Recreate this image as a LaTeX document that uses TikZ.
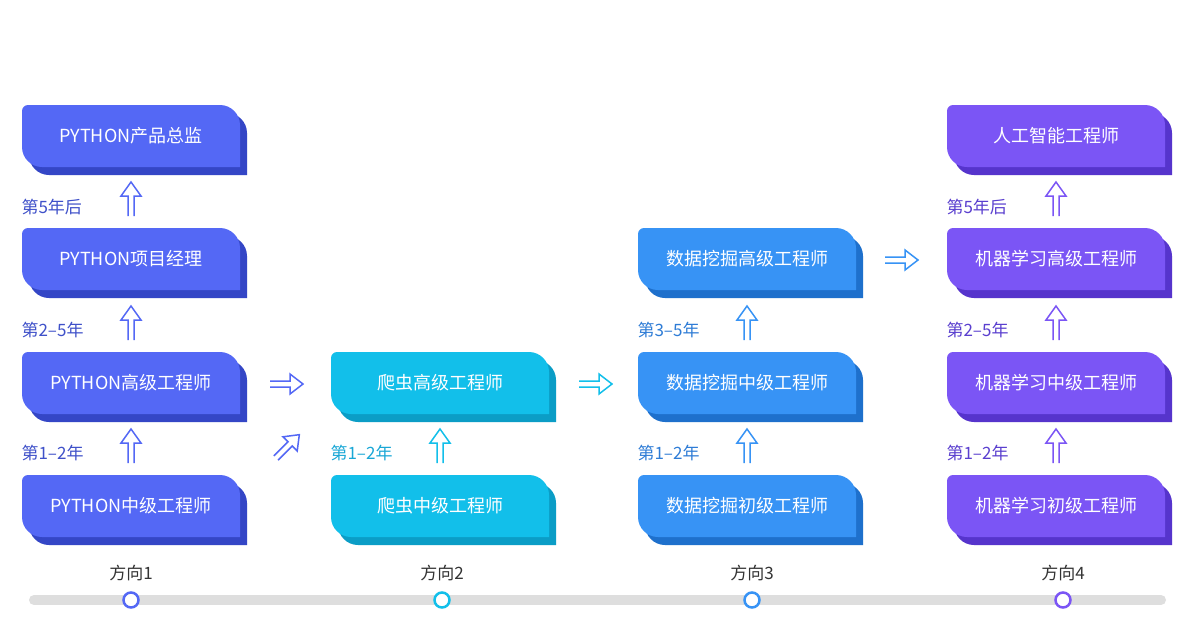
\documentclass[tikz,border=0pt]{standalone}
\usepackage{fontspec}
\setmainfont{Noto Sans CJK SC}
\begin{document}
\begin{tikzpicture}[x=1pt,y=-1pt,
  boxtext/.style={text=white,font=\fontsize{18}{20}\selectfont},
  yrlabel/.style={anchor=west,font=\fontsize{17}{20}\selectfont},
  dirlabel/.style={font=\fontsize{17}{20}\selectfont,text=black!80},
  arr/.style={line width=1.5pt,line join=miter},
  uparr/.pic={\draw[arr] (-3,0)--(-3,-20)--(-10,-20)--(0,-34)--(10,-20)--(3,-20)--(3,0);},
  rtarr/.pic={\draw[arr] (0,-3)--(20,-3)--(20,-10)--(33,0)--(20,10)--(20,3)--(0,3);}]
\definecolor{pyF}{HTML}{5468F5}\definecolor{pyS}{HTML}{3446C6}\definecolor{pyT}{HTML}{3F51C9}
\definecolor{cyF}{HTML}{12BFEA}\definecolor{cyS}{HTML}{0B9DC6}\definecolor{cyT}{HTML}{19A7D6}
\definecolor{dmF}{HTML}{3793F5}\definecolor{dmS}{HTML}{1E70CC}\definecolor{dmT}{HTML}{2E7CD6}
\definecolor{mlF}{HTML}{7B55F5}\definecolor{mlS}{HTML}{5634CC}\definecolor{mlT}{HTML}{5A3FCF}
\useasboundingbox[fill=white] (0,0) rectangle (1200,638);
\newcommand\cshape{(0,6) .. controls (0,2.7) and (2.7,0) .. (6,0) -- (198,0) .. controls (209,0) and (218,9) .. (218,20) -- (218,62) -- (20,62) .. controls (9,62) and (0,53) .. (0,42) -- cycle}
\newcommand\cbox[6]{%
  \begin{scope}[shift={(#1,#2)}]
    \fill[#4] [shift={(7,8)}] \cshape;
    \fill[#3] \cshape;
    \node[boxtext] (#6) at (109,31) {#5};
  \end{scope}}
% timeline
\draw[line width=10pt,line cap=round,color=black!13] (34,600) -- (1161,600);
\foreach \x/\c/\n in {131/pyF/1,442/cyF/2,752/dmF/3,1063/mlF/4}{
  \node[circle,draw=\c,line width=2.5pt,fill=white,minimum size=15pt,inner sep=0] (dot\n) at (\x,600) {};
  \node[dirlabel] (dir\n) at (\x,573) {方向\n};
}
% column 1
\cbox{22}{105}{pyF}{pyS}{PYTHON产品总监}{p1}
\cbox{22}{228}{pyF}{pyS}{PYTHON项目经理}{p2}
\cbox{22}{352}{pyF}{pyS}{PYTHON高级工程师}{p3}
\cbox{22}{475}{pyF}{pyS}{PYTHON中级工程师}{p4}
% column 2
\cbox{331}{352}{cyF}{cyS}{爬虫高级工程师}{c3}
\cbox{331}{475}{cyF}{cyS}{爬虫中级工程师}{c4}
% column 3
\cbox{638}{228}{dmF}{dmS}{数据挖掘高级工程师}{d2}
\cbox{638}{352}{dmF}{dmS}{数据挖掘中级工程师}{d3}
\cbox{638}{475}{dmF}{dmS}{数据挖掘初级工程师}{d4}
% column 4
\cbox{947}{105}{mlF}{mlS}{人工智能工程师}{m1}
\cbox{947}{228}{mlF}{mlS}{机器学习高级工程师}{m2}
\cbox{947}{352}{mlF}{mlS}{机器学习中级工程师}{m3}
\cbox{947}{475}{mlF}{mlS}{机器学习初级工程师}{m4}
% labels
\node[yrlabel,text=pyT] (l1) at (18,207) {第5年后};
\node[yrlabel,text=pyT] (l2) at (18,330) {第2–5年};
\node[yrlabel,text=pyT] (l3) at (18,453) {第1–2年};
\node[yrlabel,text=cyT] (l4) at (327,453) {第1–2年};
\node[yrlabel,text=dmT] (l5) at (634,330) {第3–5年};
\node[yrlabel,text=dmT] (l6) at (634,453) {第1–2年};
\node[yrlabel,text=mlT] (l7) at (943,207) {第5年后};
\node[yrlabel,text=mlT] (l8) at (943,330) {第2–5年};
\node[yrlabel,text=mlT] (l9) at (943,453) {第1–2年};
% up arrows
\foreach \x/\c in {131/pyF}{\foreach \y in {216,340,463}{\pic[color=\c] at (\x,\y) {uparr};}}
\pic[color=cyF] at (440,463) {uparr};
\foreach \y in {340,463}{\pic[color=dmF] at (747,\y) {uparr};}
\foreach \y in {216,340,463}{\pic[color=mlF] at (1056,\y) {uparr};}
% right arrows
\pic[color=pyF] at (270,384) {rtarr};
\pic[color=pyF,rotate=45] at (276,458) {rtarr};
\pic[color=cyF] at (579,384) {rtarr};
\pic[color=dmF] at (885,260) {rtarr};
\end{tikzpicture}
\end{document}
